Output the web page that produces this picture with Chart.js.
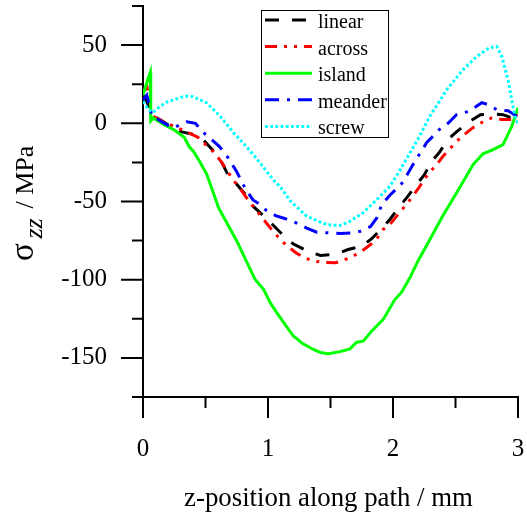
<!DOCTYPE html>
<html><head><meta charset="utf-8">
<script src="https://cdn.jsdelivr.net/npm/chart.js@4.4.1/dist/chart.umd.min.js"></script>
<style>html,body{margin:0;padding:0;background:#fff;}canvas{display:block;}</style>
</head><body>
<canvas id="c" width="527" height="515"></canvas>
<script>
// ---- data ----
const seriesNames = ['linear', 'across', 'island', 'meander', 'screw'];

const linearX = [0, 0.03, 0.07, 0.12, 0.2, 0.28, 0.4, 0.48, 0.58, 0.63, 0.68, 0.75, 0.83, 0.88, 0.99, 1.04, 1.12, 1.2, 1.32, 1.42, 1.5, 1.58, 1.64, 1.75, 1.83, 1.91, 1.975, 2.055, 2.12, 2.19, 2.25, 2.31, 2.37, 2.44, 2.51, 2.61, 2.7, 2.8, 2.88, 2.95, 3.0];
const linearY = [18, 14, 5, 3, -1, -5, -7, -10.4, -19, -25, -33, -39, -46.6, -53, -61, -65, -71.5, -77, -81.8, -84.5, -84, -82.6, -80.7, -78.6, -73.7, -67.3, -61.5, -53, -46.6, -39, -33, -24.3, -18.7, -10.4, -5.3, 1, 5.5, 6, 5.5, 3.5, 5.5];

const acrossX = [0, 0.03, 0.07, 0.18, 0.31, 0.44, 0.56, 0.63, 0.676, 0.72, 0.78, 0.84, 0.92, 1.03, 1.08, 1.14, 1.22, 1.28, 1.36, 1.45, 1.54, 1.6, 1.68, 1.75, 1.82, 1.87, 1.92, 1.975, 2.04, 2.095, 2.15, 2.2, 2.25, 2.29, 2.35, 2.4, 2.45, 2.51, 2.57, 2.64, 2.72, 2.79, 2.87, 2.95, 3.0];
const acrossY = [20, 24, 5, 0.4, -4, -9, -18, -25, -30.7, -36, -42, -49, -57, -68, -72.6, -77.5, -82.6, -85.6, -88, -89, -89.2, -87.7, -85, -81.8, -77.5, -73.9, -68, -64.7, -58.3, -53, -47.5, -42, -36, -31.5, -26.4, -21, -16.8, -11.5, -7.2, -2.8, 1, 3.4, 2.4, 2.4, 5.5];

const islandX = [0, 0.03, 0.058, 0.062, 0.082, 0.165, 0.245, 0.33, 0.37, 0.404, 0.45, 0.511, 0.578, 0.604, 0.68, 0.751, 0.82, 0.897, 0.963, 1.02, 1.07, 1.14, 1.203, 1.28, 1.363, 1.42, 1.482, 1.576, 1.656, 1.709, 1.762, 1.829, 1.922, 2.015, 2.069, 2.135, 2.2, 2.295, 2.4, 2.508, 2.641, 2.72, 2.8, 2.88, 2.95, 3.0];
const islandY = [18, 26, 32.5, 1.5, 3.4, -0.8, -4, -9, -15, -18, -24, -32.8, -48, -54, -65, -75.4, -87, -99.9, -106, -115, -121, -129, -136, -141, -144.6, -146.5, -147.3, -146, -144.2, -140, -139.3, -132.9, -125.4, -112.7, -108, -98.8, -88, -74.3, -59, -44.5, -26.4, -19.5, -16.8, -13.6, -2, 10];

const meanderX = [0, 0.03, 0.07, 0.165, 0.24, 0.35, 0.42, 0.47, 0.55, 0.61, 0.68, 0.75, 0.82, 0.88, 0.937, 0.99, 1.06, 1.14, 1.22, 1.31, 1.39, 1.48, 1.58, 1.67, 1.74, 1.82, 1.87, 1.91, 1.975, 2.07, 2.12, 2.16, 2.21, 2.27, 2.32, 2.37, 2.44, 2.51, 2.61, 2.71, 2.76, 2.83, 2.92, 3.0];
const meanderY = [15, 18, 5, 0.3, -3, 1, 0, -5, -10.4, -14.7, -22, -31, -42, -49, -52, -56, -59, -61, -63.5, -67, -69.6, -70, -70.5, -70, -69, -66, -60.5, -52, -46, -38.5, -32, -26.4, -20, -12.3, -8.3, -4, 0, 5.6, 7.7, 13.2, 12, 8.7, 8, 4];

const screwX = [0, 0.04, 0.08, 0.138, 0.2, 0.245, 0.338, 0.4, 0.47, 0.51, 0.617, 0.724, 0.857, 0.963, 1.04, 1.097, 1.177, 1.31, 1.44, 1.5, 1.576, 1.656, 1.76, 1.87, 1.975, 2.055, 2.135, 2.2, 2.295, 2.43, 2.56, 2.67, 2.77, 2.83, 2.87, 2.92, 2.95, 2.98, 3.0];
const screwY = [14, 9, 7, 10.9, 14, 15, 17.5, 17, 14.5, 13, 4.5, -6, -17.5, -28, -36, -40.5, -49.5, -59.4, -64, -65, -65.4, -62.6, -57.3, -48.8, -40.3, -30, -19, -10, 4.5, 21.5, 34.3, 42.8, 48.2, 49.2, 42.8, 28, 15, 3, 0];

const xTickValues = [0, 1, 2, 3];
const xMinorTicks = [0.5, 1.5, 2.5];
const yTickValues = [-150, -100, -50, 0, 50];
const yMinorTicks = [-175, -125, -75, -25, 25, 75];
const xTitle = 'z-position along path / mm';
const yTitleSymbol = 'σ';
const yTitleSub = 'zz';
const yTitleRest = '/ MPa';

// ---- styles ----
const FONT = '"Liberation Serif", "Times New Roman", serif';
const styles = [
  { color: '#000000', dash: [14, 13] },
  { color: '#ff0000', dash: [12, 7, 3, 7, 3, 7] },
  { color: '#00ff00', dash: [] },
  { color: '#0000ff', dash: [14, 8, 3, 8] },
  { color: '#00ffff', dash: [2.8, 2.4] }
];
const xs = [linearX, acrossX, islandX, meanderX, screwX];
const ysArr = [linearY, acrossY, islandY, meanderY, screwY];

const datasets = seriesNames.map((name, i) => ({
  label: name,
  data: xs[i].map((x, j) => ({ x: x, y: ysArr[i][j] })),
  borderColor: styles[i].color,
  backgroundColor: styles[i].color,
  borderDash: styles[i].dash,
  borderWidth: 3,
  pointRadius: 0,
  tension: 0,
  fill: false,
  order: seriesNames.length - i
}));

function zeroPad(s) { s.paddingLeft = 0; s.paddingRight = 0; s.paddingTop = 0; s.paddingBottom = 0; }

const decor = {
  id: 'decor',
  afterDraw(chart) {
    const ctx = chart.ctx;
    const sx = chart.scales.x, sy = chart.scales.y;
    const ca = chart.chartArea;
    ctx.save();
    // tick marks
    ctx.strokeStyle = '#000';
    ctx.lineWidth = 2;
    ctx.setLineDash([]);
    ctx.beginPath();
    xTickValues.forEach(v => { const p = sx.getPixelForValue(v); ctx.moveTo(p, ca.bottom); ctx.lineTo(p, ca.bottom + 21); });
    xMinorTicks.forEach(v => { const p = sx.getPixelForValue(v); ctx.moveTo(p, ca.bottom); ctx.lineTo(p, ca.bottom + 11); });
    yTickValues.forEach(v => { const p = sy.getPixelForValue(v); ctx.moveTo(ca.left, p); ctx.lineTo(ca.left - 22, p); });
    yMinorTicks.forEach(v => { const p = sy.getPixelForValue(v); ctx.moveTo(ca.left, p); ctx.lineTo(ca.left - 11, p); });
    ctx.stroke();

    // x title
    ctx.fillStyle = '#000';
    ctx.font = '26.8px ' + FONT;
    ctx.textAlign = 'center';
    ctx.textBaseline = 'alphabetic';
    ctx.fillText(xTitle, (ca.left + ca.right) / 2 - 2, ca.bottom + 109);

    // y title (rotated)
    ctx.save();
    ctx.translate(33, 261);
    ctx.rotate(-Math.PI / 2);
    ctx.textAlign = 'left';
    ctx.font = '33px ' + FONT;
    ctx.fillText(yTitleSymbol, 0, 0);
    ctx.font = 'italic 26px ' + FONT;
    ctx.fillText(yTitleSub, 22.5, 8.5);
    ctx.font = '26px ' + FONT;
    ctx.fillText(yTitleRest, 52.5, 0);
    ctx.restore();

    // legend
    const bx = 261.5, by = 10.5, bw = 127, bh = 127;
    ctx.fillStyle = '#fff';
    ctx.fillRect(bx, by, bw, bh);
    ctx.strokeStyle = '#000';
    ctx.lineWidth = 1;
    ctx.strokeRect(bx, by, bw, bh);
    ctx.font = '20px ' + FONT;
    ctx.textAlign = 'left';
    chart.data.datasets.forEach((ds, i) => {
      const y = 20 + i * 26.6;
      ctx.save();
      ctx.strokeStyle = ds.borderColor;
      ctx.lineWidth = 3;
      ctx.lineCap = 'butt';
      ctx.setLineDash(ds.borderDash || []);
      ctx.beginPath();
      ctx.moveTo(265, y);
      ctx.lineTo(312, y);
      ctx.stroke();
      ctx.restore();
      ctx.fillStyle = '#000';
      ctx.fillText(ds.label, 318, y + 8);
    });
    ctx.restore();
  }
};

new Chart(document.getElementById('c'), {
  type: 'line',
  data: { datasets: datasets },
  options: {
    responsive: false,
    animation: false,
    devicePixelRatio: 1,
    layout: { padding: { top: 6, right: 9, left: 0, bottom: 0 } },
    plugins: { legend: { display: false }, tooltip: { enabled: false }, title: { display: false } },
    scales: {
      x: {
        type: 'linear', position: 'bottom', min: 0, max: 3,
        afterFit(s) { s.height = 118; zeroPad(s); },
        afterBuildTicks(s) { s.ticks = xTickValues.map(v => ({ value: v })); },
        grid: { display: false, drawTicks: false, tickLength: 0 },
        border: { display: true, color: '#000', width: 2 },
        ticks: { color: '#000', font: { family: FONT, size: 25 }, padding: 37, autoSkip: false, maxRotation: 0 }
      },
      y: {
        type: 'linear', position: 'left', min: -175, max: 75,
        afterFit(s) { s.width = 143; zeroPad(s); },
        afterBuildTicks(s) { s.ticks = yTickValues.map(v => ({ value: v })); },
        grid: { display: false, drawTicks: false, tickLength: 0 },
        border: { display: true, color: '#000', width: 2 },
        ticks: { color: '#000', font: { family: FONT, size: 25 }, padding: 36, autoSkip: false }
      }
    }
  },
  plugins: [decor]
});
</script>
</body></html>
